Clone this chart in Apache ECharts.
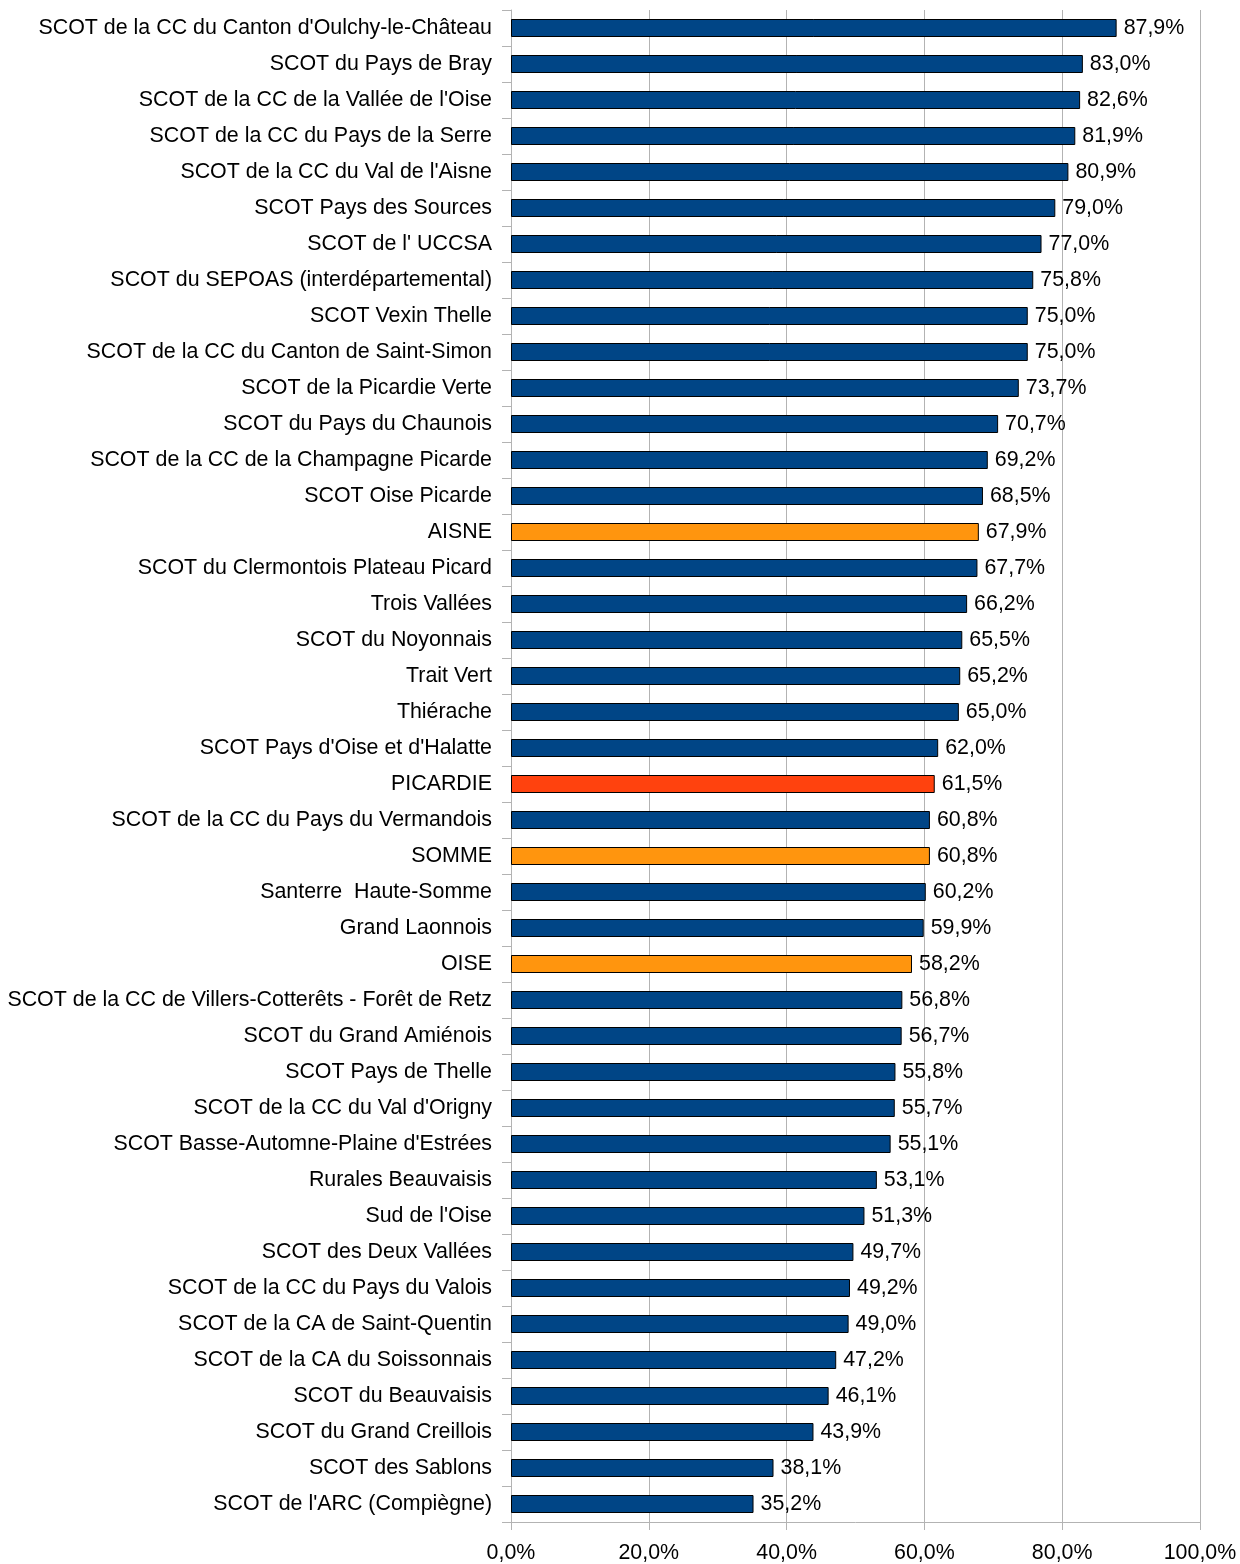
<!DOCTYPE html>
<html><head><meta charset="utf-8">
<script src="https://cdn.jsdelivr.net/npm/echarts@6/dist/echarts.min.js"></script>
<style>html,body{margin:0;padding:0;background:#fff}#c{width:1240px;height:1564px}</style>
</head><body><div id="c"></div>
<script>
const categories = [
"SCOT de la CC du Canton d'Oulchy-le-Château","SCOT du Pays de Bray","SCOT de la CC de la Vallée de l'Oise",
"SCOT de la CC du Pays de la Serre","SCOT de la CC du Val de l'Aisne","SCOT Pays des Sources","SCOT de l' UCCSA",
"SCOT du SEPOAS (interdépartemental)","SCOT Vexin Thelle","SCOT de la CC du Canton de Saint-Simon",
"SCOT de la Picardie Verte","SCOT du Pays du Chaunois","SCOT de la CC de la Champagne Picarde","SCOT Oise Picarde",
"AISNE","SCOT du Clermontois Plateau Picard","Trois Vallées","SCOT du Noyonnais","Trait Vert","Thiérache",
"SCOT Pays d'Oise et d'Halatte","PICARDIE","SCOT de la CC du Pays du Vermandois","SOMME","Santerre  Haute-Somme",
"Grand Laonnois","OISE","SCOT de la CC de Villers-Cotterêts - Forêt de Retz","SCOT du Grand Amiénois",
"SCOT Pays de Thelle","SCOT de la CC du Val d'Origny","SCOT Basse-Automne-Plaine d'Estrées","Rurales Beauvaisis",
"Sud de l'Oise","SCOT des Deux Vallées","SCOT de la CC du Pays du Valois","SCOT de la CA de Saint-Quentin",
"SCOT de la CA du Soissonnais","SCOT du Beauvaisis","SCOT du Grand Creillois","SCOT des Sablons","SCOT de l'ARC (Compiègne)"
];
const values = [87.9,83.0,82.6,81.9,80.9,79.0,77.0,75.8,75.0,75.0,73.7,70.7,69.2,68.5,67.9,67.7,66.2,65.5,65.2,65.0,
62.0,61.5,60.8,60.8,60.2,59.9,58.2,56.8,56.7,55.8,55.7,55.1,53.1,51.3,49.7,49.2,49.0,47.2,46.1,43.9,38.1,35.2];
const departments = ["AISNE","SOMME","OISE"];
const region = ["PICARDIE"];
const xTicks = [0,20,40,60,80,100];

const BLUE='#004586', ORANGE='#ff950e', RED='#ff420e';
const fmt = v => v.toFixed(1).replace('.', ',') + '%';
const FONT = '"Liberation Sans", Arial, sans-serif';
const FS = 21.4;
const chart = echarts.init(document.getElementById('c'));
chart.setOption({
  animation:false,
  textStyle:{fontFamily:FONT},
  grid:{left:511,right:40,top:10,bottom:40,containLabel:false},
  xAxis:{type:'value',min:xTicks[0],max:xTicks[xTicks.length-1],interval:20,
    axisLine:{show:true,lineStyle:{color:'#b3b3b3'}},
    axisTick:{show:true,length:8,lineStyle:{color:'#b3b3b3'}},
    splitLine:{show:true,lineStyle:{color:'#b3b3b3'}},
    axisLabel:{fontSize:FS,color:'#000',fontFamily:FONT,margin:21,formatter:v=>fmt(v)}},
  yAxis:{type:'category',data:categories,inverse:true,
    axisLine:{show:true,lineStyle:{color:'#b3b3b3'}},
    axisTick:{show:true,length:9,alignWithLabel:false,lineStyle:{color:'#b3b3b3'}},
    splitLine:{show:false},
    axisLabel:{fontSize:FS,color:'#000',fontFamily:FONT,margin:19,interval:0,padding:[2,0,0,0]}},
  series:[{type:'bar',barCategoryGap:'50%',
    data:values.map((v,i)=>({value:v,itemStyle:{color:region.includes(categories[i])?RED:(departments.includes(categories[i])?ORANGE:BLUE)}})),
    itemStyle:{borderColor:'#000',borderWidth:1},
    label:{show:true,position:'right',distance:7,fontSize:FS,color:'#000',fontFamily:FONT,padding:[2,0,0,0],formatter:p=>fmt(p.value)}}]
});
</script></body></html>
